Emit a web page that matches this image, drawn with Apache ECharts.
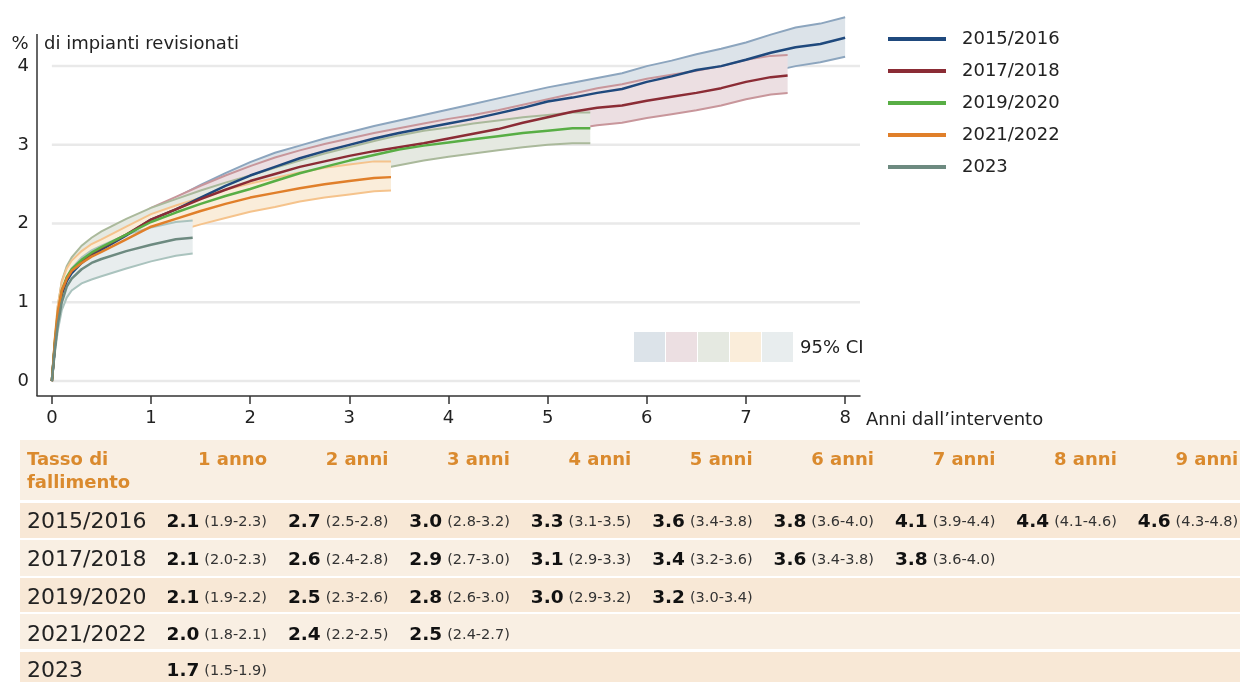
<!DOCTYPE html>
<html>
<head>
<meta charset="utf-8">
<script src="https://cdn.jsdelivr.net/npm/echarts@6/dist/echarts.min.js"></script>
<style>
  html, body { margin: 0; padding: 0; background: #fff; }
  #chart { width: 1240px; height: 682px; }
</style>
</head>
<body>
<div id="chart"></div>
<script>
// curve data (years, % revised)
const t1516 = [0, 0.03, 0.06, 0.1, 0.15, 0.2, 0.3, 0.4, 0.5, 0.75, 1, 1.25, 1.5, 1.75, 2, 2.25, 2.5, 2.75, 3, 3.25, 3.5, 3.75, 4, 4.25, 4.5, 4.75, 5, 5.25, 5.5, 5.75, 6, 6.25, 6.5, 6.75, 7, 7.25, 7.5, 7.75, 8]
const m1516 = [0, 0.45, 0.8, 1.1, 1.27, 1.37, 1.5, 1.6, 1.67, 1.85, 2.05, 2.18, 2.33, 2.48, 2.61, 2.72, 2.83, 2.92, 3.0, 3.08, 3.15, 3.21, 3.27, 3.33, 3.4, 3.47, 3.55, 3.6, 3.66, 3.71, 3.8, 3.87, 3.95, 4.0, 4.08, 4.17, 4.24, 4.28, 4.36]
const hi1516 = [0, 0.5, 0.88, 1.2, 1.37, 1.47, 1.6, 1.71, 1.79, 1.97, 2.18, 2.33, 2.49, 2.64, 2.78, 2.9, 2.99, 3.08, 3.16, 3.24, 3.31, 3.38, 3.45, 3.52, 3.59, 3.66, 3.73, 3.79, 3.85, 3.91, 4.0, 4.07, 4.15, 4.22, 4.3, 4.4, 4.49, 4.54, 4.62]
const lo1516 = [0, 0.4, 0.72, 1.0, 1.17, 1.27, 1.4, 1.49, 1.56, 1.73, 1.92, 2.05, 2.19, 2.33, 2.46, 2.56, 2.65, 2.73, 2.82, 2.89, 2.96, 3.02, 3.08, 3.13, 3.19, 3.26, 3.33, 3.38, 3.44, 3.49, 3.58, 3.65, 3.73, 3.79, 3.86, 3.93, 4.0, 4.05, 4.12]

const t1718 = [0, 0.03, 0.06, 0.1, 0.15, 0.2, 0.3, 0.4, 0.5, 0.75, 1, 1.25, 1.5, 1.75, 2, 2.25, 2.5, 2.75, 3, 3.25, 3.5, 3.75, 4, 4.25, 4.5, 4.75, 5, 5.25, 5.5, 5.75, 6, 6.25, 6.5, 6.75, 7, 7.25, 7.42]
const m1718 = [0, 0.45, 0.82, 1.12, 1.3, 1.4, 1.52, 1.62, 1.69, 1.86, 2.05, 2.18, 2.31, 2.43, 2.54, 2.63, 2.72, 2.79, 2.86, 2.92, 2.97, 3.02, 3.08, 3.14, 3.2, 3.28, 3.35, 3.42, 3.47, 3.5, 3.56, 3.61, 3.66, 3.72, 3.8, 3.86, 3.88]
const hi1718 = [0, 0.5, 0.9, 1.22, 1.41, 1.51, 1.64, 1.74, 1.82, 2.0, 2.2, 2.34, 2.48, 2.61, 2.73, 2.84, 2.93, 3.01, 3.08, 3.15, 3.21, 3.27, 3.33, 3.38, 3.44, 3.51, 3.58, 3.65, 3.72, 3.77, 3.84, 3.89, 3.94, 4.0, 4.08, 4.13, 4.14]
const lo1718 = [0, 0.4, 0.74, 1.02, 1.19, 1.29, 1.4, 1.5, 1.56, 1.72, 1.9, 2.02, 2.14, 2.25, 2.36, 2.45, 2.53, 2.6, 2.67, 2.72, 2.77, 2.82, 2.87, 2.93, 2.99, 3.06, 3.13, 3.2, 3.25, 3.28, 3.34, 3.39, 3.44, 3.5, 3.58, 3.64, 3.66]

const t1920 = [0, 0.03, 0.06, 0.1, 0.15, 0.2, 0.3, 0.4, 0.5, 0.75, 1, 1.25, 1.5, 1.75, 2, 2.25, 2.5, 2.75, 3, 3.25, 3.5, 3.75, 4, 4.25, 4.5, 4.75, 5, 5.25, 5.43]
const m1920 = [0, 0.48, 0.85, 1.15, 1.32, 1.42, 1.54, 1.63, 1.7, 1.86, 2.02, 2.14, 2.25, 2.35, 2.44, 2.54, 2.64, 2.72, 2.8, 2.87, 2.94, 2.99, 3.03, 3.07, 3.11, 3.15, 3.18, 3.21, 3.21]
const hi1920 = [0, 0.55, 0.95, 1.27, 1.46, 1.57, 1.72, 1.82, 1.9, 2.06, 2.2, 2.31, 2.42, 2.52, 2.61, 2.71, 2.8, 2.89, 2.97, 3.05, 3.12, 3.18, 3.22, 3.27, 3.31, 3.35, 3.38, 3.41, 3.41]
const lo1920 = [0, 0.42, 0.76, 1.04, 1.2, 1.3, 1.41, 1.49, 1.55, 1.7, 1.86, 1.98, 2.09, 2.19, 2.28, 2.37, 2.46, 2.54, 2.62, 2.68, 2.74, 2.8, 2.85, 2.89, 2.93, 2.97, 3.0, 3.02, 3.02]

const t2122 = [0, 0.03, 0.06, 0.1, 0.15, 0.2, 0.3, 0.4, 0.5, 0.75, 1, 1.25, 1.5, 1.75, 2, 2.25, 2.5, 2.75, 3, 3.25, 3.42]
const m2122 = [0, 0.5, 0.88, 1.15, 1.3, 1.4, 1.5, 1.58, 1.64, 1.8, 1.96, 2.06, 2.16, 2.25, 2.33, 2.39, 2.45, 2.5, 2.54, 2.58, 2.59]
const hi2122 = [0, 0.56, 0.96, 1.26, 1.43, 1.53, 1.65, 1.74, 1.8, 1.96, 2.12, 2.23, 2.33, 2.43, 2.51, 2.58, 2.65, 2.71, 2.75, 2.79, 2.79]
const lo2122 = [0, 0.44, 0.8, 1.04, 1.17, 1.27, 1.36, 1.43, 1.48, 1.64, 1.8, 1.9, 1.99, 2.07, 2.15, 2.21, 2.28, 2.33, 2.37, 2.41, 2.42]

const t2023 = [0, 0.03, 0.06, 0.1, 0.15, 0.2, 0.3, 0.4, 0.5, 0.75, 1, 1.25, 1.42]
const m2023 = [0, 0.4, 0.72, 1.0, 1.2, 1.3, 1.42, 1.5, 1.55, 1.65, 1.73, 1.8, 1.82]
const hi2023 = [0, 0.45, 0.8, 1.1, 1.32, 1.43, 1.57, 1.66, 1.72, 1.86, 1.95, 2.02, 2.04]
const lo2023 = [0, 0.35, 0.64, 0.9, 1.06, 1.15, 1.24, 1.29, 1.33, 1.43, 1.52, 1.59, 1.62]

const xTicks = [0, 1, 2, 3, 4, 5, 6, 7, 8]
const yTicks = [0, 1, 2, 3, 4]

// table under the chart
const tableYears = ['2015/2016', '2017/2018', '2019/2020', '2021/2022', '2023']
const tableCols = ['1 anno', '2 anni', '3 anni', '4 anni', '5 anni', '6 anni', '7 anni', '8 anni', '9 anni']
const est1516 = [2.1, 2.7, 3.0, 3.3, 3.6, 3.8, 4.1, 4.4, 4.6]
const ci1516 = ['1.9-2.3', '2.5-2.8', '2.8-3.2', '3.1-3.5', '3.4-3.8', '3.6-4.0', '3.9-4.4', '4.1-4.6', '4.3-4.8']
const est1718 = [2.1, 2.6, 2.9, 3.1, 3.4, 3.6, 3.8]
const ci1718 = ['2.0-2.3', '2.4-2.8', '2.7-3.0', '2.9-3.3', '3.2-3.6', '3.4-3.8', '3.6-4.0']
const est1920 = [2.1, 2.5, 2.8, 3.0, 3.2]
const ci1920 = ['1.9-2.2', '2.3-2.6', '2.6-3.0', '2.9-3.2', '3.0-3.4']
const est2122 = [2.0, 2.4, 2.5]
const ci2122 = ['1.8-2.1', '2.2-2.5', '2.4-2.7']
const est2023 = [1.7]
const ci2023 = ['1.5-1.9']

const FONT = 'DejaVu Sans'
const X_MAX = 8.15

const groups = [
  { name: '2015/2016', t: t1516, m: m1516, lo: lo1516, hi: hi1516, line: '#1f497d', edge: '#8ca5be', fill: '#dce3e9' },
  { name: '2017/2018', t: t1718, m: m1718, lo: lo1718, hi: hi1718, line: '#8b2c35', edge: '#c8969b', fill: '#ecdfe2' },
  { name: '2019/2020', t: t1920, m: m1920, lo: lo1920, hi: hi1920, line: '#58ae45', edge: '#aab99b', fill: '#e5e9e1' },
  { name: '2021/2022', t: t2122, m: m2122, lo: lo2122, hi: hi2122, line: '#e07f2a', edge: '#f5c38c', fill: '#faedda' },
  { name: '2023', t: t2023, m: m2023, lo: lo2023, hi: hi2023, line: '#6d8a80', edge: '#aac3be', fill: '#e8edee' }
]

function bandSeries(g) {
  return {
    type: 'custom',
    name: g.name + ' CI',
    silent: true,
    z: 2,
    data: g.t.map((x, i) => [x, g.lo[i], g.hi[i]]),
    encode: { x: 0, y: [1, 2] },
    renderItem: function(params, api) {
      if (params.dataIndex !== 0) return null
      const lower = g.t.map((x, i) => api.coord([x, g.lo[i]]))
      const upper = g.t.map((x, i) => api.coord([x, g.hi[i]]))
      return {
        type: 'group',
        children: [
          { type: 'polygon', shape: { points: lower.concat(upper.slice().reverse()) }, style: { fill: g.fill } },
          { type: 'polyline', shape: { points: lower }, style: { stroke: g.edge, lineWidth: 2, fill: null } },
          { type: 'polyline', shape: { points: upper }, style: { stroke: g.edge, lineWidth: 2, fill: null } }
        ]
      }
    }
  }
}

function lineSeries(g) {
  return {
    type: 'line',
    name: g.name,
    data: g.t.map((x, i) => [x, g.m[i]]),
    symbol: 'none',
    silent: true,
    z: 3,
    itemStyle: { color: g.line },
    lineStyle: { color: g.line, width: 2.5 }
  }
}

const gridSeries = {
  type: 'custom',
  silent: true,
  z: 1,
  data: yTicks.map(v => [0, v]),
  encode: { x: 0, y: 1 },
  renderItem: function(params, api) {
    const a = api.coord([0, api.value(1)])
    const b = api.coord([X_MAX, api.value(1)])
    return { type: 'line', shape: { x1: a[0], y1: a[1], x2: b[0], y2: b[1] }, style: { stroke: '#e9e9e9', lineWidth: 2.5 } }
  }
}

// static decorations + table
const graphics = []
graphics.push({ type: 'line', shape: { x1: 37, y1: 34, x2: 37, y2: 396 }, style: { stroke: '#333', lineWidth: 1.5 } })
graphics.push({ type: 'text', x: 20, y: 44, style: { text: '%', font: '18px "DejaVu Sans"', fill: '#222', align: 'center', verticalAlign: 'middle' } })
graphics.push({ type: 'text', x: 44, y: 44, style: { text: 'di impianti revisionati', font: '18px "DejaVu Sans"', fill: '#222', align: 'left', verticalAlign: 'middle' } })

groups.forEach((g, i) => {
  graphics.push({ type: 'rect', shape: { x: 634 + i * 32, y: 332, width: 31, height: 30 }, style: { fill: g.fill } })
})
graphics.push({ type: 'text', x: 800, y: 348, style: { text: '95% CI', font: '18px "DejaVu Sans"', fill: '#222', align: 'left', verticalAlign: 'middle' } })

const HEAD_BG = '#f9efe3'
const DARK_BG = '#f8e8d6'
const ORANGE = '#da8a2e'
graphics.push({ type: 'rect', shape: { x: 20, y: 440, width: 1220, height: 60 }, style: { fill: HEAD_BG } })
graphics.push({ type: 'text', x: 27, y: 460, style: { text: 'Tasso di', font: 'bold 18px "DejaVu Sans"', fill: ORANGE, align: 'left', verticalAlign: 'middle' } })
graphics.push({ type: 'text', x: 27, y: 483, style: { text: 'fallimento', font: 'bold 18px "DejaVu Sans"', fill: ORANGE, align: 'left', verticalAlign: 'middle' } })
tableCols.forEach((c, i) => {
  graphics.push({ type: 'text', x: 267 + i * 121.4, y: 460, style: { text: c, font: 'bold 18px "DejaVu Sans"', fill: ORANGE, align: 'right', verticalAlign: 'middle' } })
})

const rowBands = [[503, 35], [540, 36], [578, 34], [614, 35], [652, 30]]
const rowText = [521, 559, 597, 634, 670]
const rowEst = [est1516, est1718, est1920, est2122, est2023]
const rowCi = [ci1516, ci1718, ci1920, ci2122, ci2023]
tableYears.forEach((yr, r) => {
  graphics.push({ type: 'rect', shape: { x: 20, y: rowBands[r][0], width: 1220, height: rowBands[r][1] }, style: { fill: r % 2 === 0 ? DARK_BG : HEAD_BG } })
  graphics.push({ type: 'text', x: 27, y: rowText[r] + 1, style: { text: yr, font: '22px "DejaVu Sans"', fill: '#222', align: 'left', verticalAlign: 'middle' } })
  rowEst[r].forEach((v, c) => {
    graphics.push({
      type: 'text',
      x: 267 + c * 121.4,
      y: rowText[r] + 1,
      style: {
        text: '{b|' + v.toFixed(1) + '}{s|(' + rowCi[r][c] + ')}',
        align: 'right',
        verticalAlign: 'middle',
        rich: {
          b: { fontFamily: FONT, fontWeight: 'bold', fontSize: 18.5, fill: '#111', padding: [0, 5, 0, 0] },
          s: { fontFamily: FONT, fontSize: 14.5, fill: '#333' }
        }
      }
    })
  })
})

const chart = echarts.init(document.getElementById('chart'))
chart.setOption({
  animation: false,
  backgroundColor: '#fff',
  grid: { left: 37, right: 380, top: 11, bottom: 286 },
  legend: {
    data: groups.map(g => g.name),
    orient: 'vertical',
    left: 888,
    top: 29,
    padding: 0,
    itemGap: 12,
    itemWidth: 58,
    itemHeight: 4,
    icon: 'rect',
    selectedMode: false,
    textStyle: { fontFamily: FONT, fontSize: 18, color: '#222', lineHeight: 20, padding: [0, 0, 0, 11] }
  },
  xAxis: {
    type: 'value',
    min: -0.15,
    max: X_MAX,
    axisLine: { onZero: false, lineStyle: { color: '#333', width: 1.5 } },
    axisTick: { customValues: xTicks, length: 8, lineStyle: { color: '#333', width: 1.5 } },
    axisLabel: { customValues: xTicks, fontFamily: FONT, fontSize: 18, color: '#222', margin: 13 },
    splitLine: { show: false },
    name: 'Anni dall\u2019intervento',
    nameLocation: 'end',
    nameGap: 6,
    nameTextStyle: { fontFamily: FONT, fontSize: 18, color: '#222', align: 'left', verticalAlign: 'top', padding: [15, 0, 0, 0] }
  },
  yAxis: {
    type: 'value',
    min: -0.19,
    max: 4.7,
    axisLine: { show: false },
    axisTick: { show: false },
    splitLine: { show: false },
    axisLabel: { customValues: yTicks, fontFamily: FONT, fontSize: 18, color: '#222', margin: 8 }
  },
  graphic: graphics,
  series: [gridSeries].concat(groups.map(bandSeries), groups.map(lineSeries))
})
</script>
</body>
</html>
